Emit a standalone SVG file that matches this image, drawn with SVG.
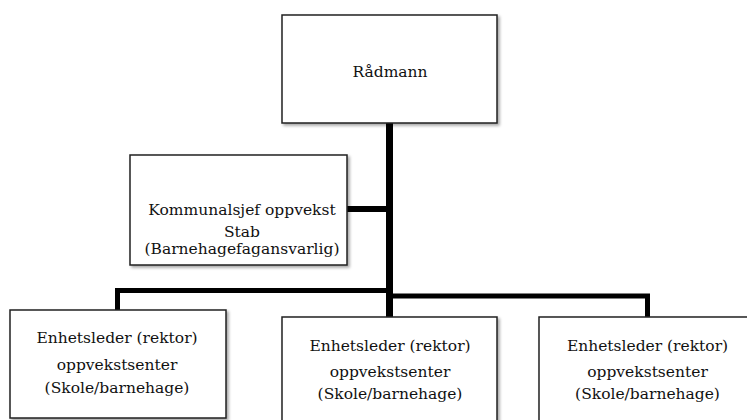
<svg xmlns="http://www.w3.org/2000/svg" width="747" height="420" viewBox="0 0 747 420">
  <defs>
    <filter id="sh" x="-10%" y="-10%" width="130%" height="130%">
      <feDropShadow dx="2" dy="2" stdDeviation="1.5" flood-color="#000" flood-opacity="0.35"/>
    </filter>
  </defs>
  <style>
    .box { fill: #fff; stroke: #222; stroke-width: 1.5; filter: url(#sh); }
    .t { font-family: "DejaVu Serif", "Liberation Serif", serif; font-size: 15.5px; fill: #111; text-anchor: middle; }
    .c { stroke: #000; fill: none; stroke-linejoin: miter; stroke-linecap: butt; }
  </style>
  <rect width="747" height="420" fill="#fff"/>
  <g id="connectors">
    <line class="c" x1="389.5" y1="123" x2="389.5" y2="317" stroke-width="7"/>
    <line class="c" x1="347" y1="209" x2="386" y2="209" stroke-width="6"/>
    <polyline class="c" points="117.5,310 117.5,290.5 386,290.5" stroke-width="5"/>
    <polyline class="c" points="393,296 647.5,296 647.5,317" stroke-width="5"/>
  </g>
  <g id="radmann">
    <rect class="box" x="282" y="15" width="215" height="108"/>
    <text class="t" x="390" y="77">Rådmann</text>
  </g>
  <g id="kommunalsjef">
    <rect class="box" x="130" y="155" width="217" height="110"/>
    <text class="t" x="242" y="215">Kommunalsjef oppvekst</text>
    <text class="t" x="242" y="237">Stab</text>
    <text class="t" x="242" y="254">(Barnehagefagansvarlig)</text>
  </g>
  <g id="enhet1">
    <rect class="box" x="10" y="310" width="216" height="108"/>
    <text class="t" x="117" y="343">Enhetsleder (rektor)</text>
    <text class="t" x="117" y="370">oppvekstsenter</text>
    <text class="t" x="117" y="393">(Skole/barnehage)</text>
  </g>
  <g id="enhet2">
    <rect class="box" x="282" y="317" width="215" height="110"/>
    <text class="t" x="390" y="351">Enhetsleder (rektor)</text>
    <text class="t" x="390" y="377">oppvekstsenter</text>
    <text class="t" x="390" y="399">(Skole/barnehage)</text>
  </g>
  <g id="enhet3">
    <rect class="box" x="539" y="317" width="216" height="110"/>
    <text class="t" x="647.5" y="351">Enhetsleder (rektor)</text>
    <text class="t" x="647.5" y="377">oppvekstsenter</text>
    <text class="t" x="647.5" y="399">(Skole/barnehage)</text>
  </g>
</svg>
